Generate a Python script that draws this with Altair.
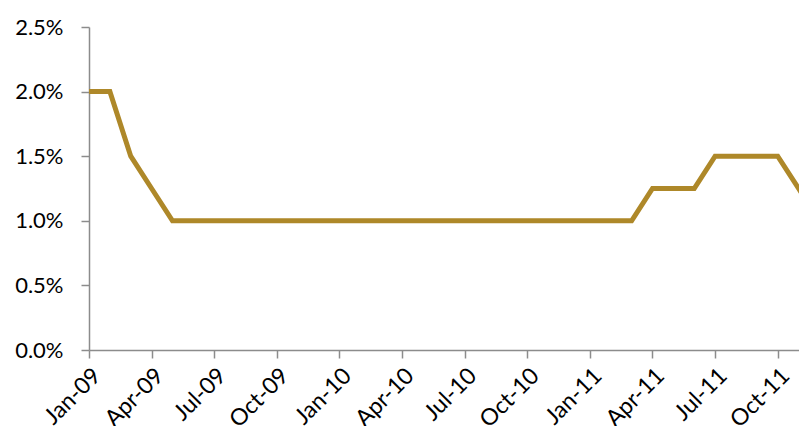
import json
import altair as alt
import pandas as pd

months = ["Jan-09","Feb-09","Mar-09","Apr-09","May-09","Jun-09","Jul-09","Aug-09","Sep-09","Oct-09","Nov-09","Dec-09",
          "Jan-10","Feb-10","Mar-10","Apr-10","May-10","Jun-10","Jul-10","Aug-10","Sep-10","Oct-10","Nov-10","Dec-10",
          "Jan-11","Feb-11","Mar-11","Apr-11","May-11","Jun-11","Jul-11","Aug-11","Sep-11","Oct-11","Nov-11","Dec-11"]
rate_pct = [2.0, 2.0, 1.5, 1.25, 1.0, 1.0, 1.0, 1.0, 1.0, 1.0, 1.0, 1.0,
            1.0, 1.0, 1.0, 1.0, 1.0, 1.0, 1.0, 1.0, 1.0, 1.0, 1.0, 1.0,
            1.0, 1.0, 1.0, 1.25, 1.25, 1.25, 1.5, 1.5, 1.5, 1.5, 1.25, 1.0]
tick_labels = ["Jan-09","Apr-09","Jul-09","Oct-09","Jan-10","Apr-10","Jul-10","Oct-10",
               "Jan-11","Apr-11","Jul-11","Oct-11"]
y_ticks = [0.0, 0.005, 0.01, 0.015, 0.02, 0.025]

df = pd.DataFrame({
    "idx": list(range(len(months))),
    "month": months,
    "rate": [v / 100 for v in rate_pct],
})

label_expr = json.dumps(tick_labels) + "[round(datum.value/3)]"

chart = alt.Chart(df).mark_line(color="#AE8829", strokeWidth=5, clip=True, strokeJoin="miter").encode(
    x=alt.X("idx:Q",
            scale=alt.Scale(domain=[0, 34.02], nice=False, zero=False),
            axis=alt.Axis(values=list(range(0, 34, 3)), labelExpr=label_expr, title=None,
                          labelAngle=-45, labelAlign="right", labelBaseline="top",
                          labelFont="Lato", labelFontSize=23, labelColor="#000000",
                          domainColor="#8C8C8C", domainWidth=1.5, tickColor="#8C8C8C",
                          tickWidth=1.5, tickSize=8, labelPadding=6, grid=False,
                          labelOverlap=False, labelBound=False, labelFlush=False)),
    y=alt.Y("rate:Q",
            scale=alt.Scale(domain=[0, 0.025], nice=False),
            axis=alt.Axis(values=y_ticks, format=".1%", title=None,
                          labelFont="Lato", labelFontSize=22, labelColor="#000000",
                          domainColor="#8C8C8C", domainWidth=1.5, tickColor="#8C8C8C",
                          tickWidth=1.5, tickSize=8, labelPadding=18, grid=False)),
).properties(
    width=710, height=323,
    background="white",
    autosize=alt.AutoSizeParams(type="none"),
    padding={"left": 81, "top": 19, "right": 0, "bottom": 76},
).configure_view(stroke=None)

chart.save("out.html", embed_options={"renderer": "svg", "actions": False})
